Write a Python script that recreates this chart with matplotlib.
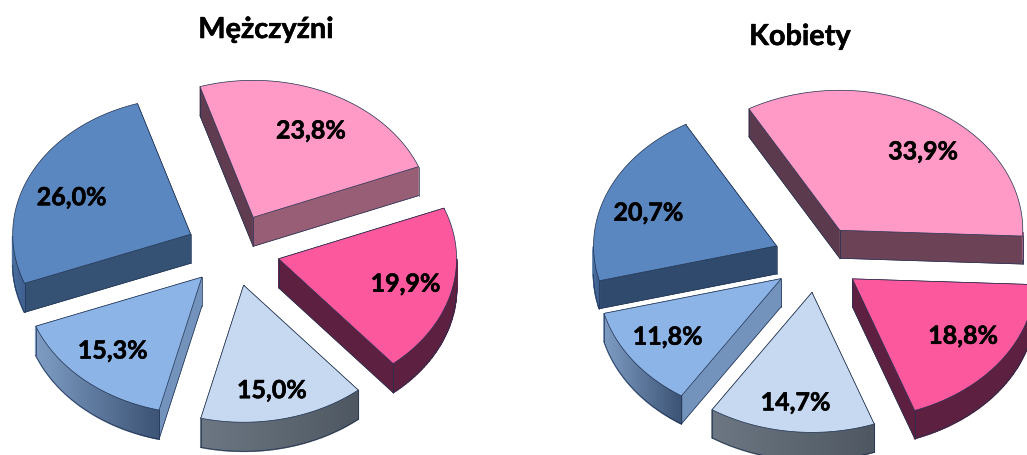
import numpy as np
import matplotlib
matplotlib.use("Agg")
import matplotlib.pyplot as plt
from matplotlib.patches import Polygon
import matplotlib.patheffects as pe

men_labels = ["23,8%", "19,9%", "15,0%", "15,3%", "26,0%"]
men_values = [23.8, 19.9, 15.0, 15.3, 26.0]
women_labels = ["33,9%", "18,8%", "14,7%", "11,8%", "20,7%"]
women_values = [33.9, 18.8, 14.7, 11.8, 20.7]

top_colors = ["#ff99c6", "#fc589e", "#c6d9f1", "#8db4e6", "#5b87c0"]
wall_left = ["#94607a", "#5e2040", "#6c7783", "#7f9dc4", "#4a70a0"]
wall_right = ["#94607a", "#5e2040", "#4e5761", "#3c5475", "#3f6090"]
# cut at the start of a slice / cut at its end
men_cuts0 = ["#5f3c4f", "#5e2040", "#4e5761", "#7393bc", "#355274"]
men_cuts1 = ["#975e76", "#5e2040", "#4e5761", "#7393bc", "#355274"]
women_cuts0 = ["#5c3a4e", "#5e2040", "#4e5761", "#7393bc", "#2f4a6c"]
women_cuts1 = ["#6c4256", "#5e2040", "#4e5761", "#7393bc", "#2f4a6c"]
edge = "#1f3050"

# label nudges, px
men_nudge = [(2, 4), (1, 1), (-1, 8), (-3, -1), (-2, 7)]
women_nudge = [(14, 9), (3, -3), (-1, 9), (-5, -1), (-5, 7)]

plt.rcParams["font.family"] = ["Lato", "DejaVu Sans"]

fig = plt.figure(figsize=(10.27, 4.56), dpi=100)
ax = fig.add_axes([0, 0, 1, 1])
ax.set_xlim(0, 1027)
ax.set_ylim(456, 0)
ax.axis("off")
bold = [pe.withStroke(linewidth=0.4, foreground="black")]


def pt(c, rx, ry, ang, r=1.0):
    # angle clockwise from top
    a = np.radians(ang)
    return np.array([c[0] + r * rx * np.sin(a), c[1] - r * ry * np.cos(a)])


def lerp_color(c1, c2, t):
    a = np.array(matplotlib.colors.to_rgb(c1))
    b = np.array(matplotlib.colors.to_rgb(c2))
    return a + (b - a) * t


def draw_pie(values, labels, c, rx, ry, start, expl, depth, cuts0, cuts1, nudge):
    ang = start
    wedges = []
    for i, v in enumerate(values):
        sweep = v / sum(values) * 360
        wedges.append((i, ang, ang + sweep))
        ang += sweep

    # back slices first
    wedges.sort(key=lambda w: -np.cos(np.radians((w[1] + w[2]) / 2)))
    for i, a0, a1 in wedges:
        mid = (a0 + a1) / 2
        apex = pt(c, rx, ry, mid, expl)
        angs = np.linspace(a0, a1, 80)
        arc = np.array([apex + pt((0, 0), rx, ry, a) for a in angs])
        down = np.array([0, depth])

        # straight cuts, far one first
        for p, col in sorted(((arc[0], cuts0[i]), (arc[-1], cuts1[i])), key=lambda q: q[0][1]):
            ax.add_patch(Polygon([apex, p, p + down, apex + down], closed=True,
                                 fc=col, ec=col, lw=0.5, zorder=2))
            ax.plot([apex[0], p[0]], [apex[1] + depth, p[1] + depth], color=edge, lw=0.5, zorder=2)

        # rim with gradient, front half only
        front = np.cos(np.radians(angs)) < 0
        rim = arc[front]
        if len(rim) > 1:
            xs = rim[:, 0]
            for k in np.argsort(np.maximum(rim[:-1, 1], rim[1:, 1])):
                t = (rim[k, 0] + rim[k + 1, 0]) / 2
                t = (t - xs.min()) / (xs.max() - xs.min())
                col = lerp_color(wall_left[i], wall_right[i], t)
                q = [rim[k], rim[k + 1], rim[k + 1] + down, rim[k] + down]
                ax.add_patch(Polygon(q, closed=True, fc=col, ec=col, lw=1.2, zorder=2))
            ax.plot(rim[:, 0], rim[:, 1] + depth, color=edge, lw=0.5, zorder=2)

        for p in (arc[0], arc[-1], apex):
            ax.plot([p[0], p[0]], [p[1], p[1] + depth], color=edge, lw=0.5, zorder=2)

        # top
        ax.add_patch(Polygon(np.vstack([apex, arc]), closed=True, fc=top_colors[i],
                             ec=edge, lw=0.5, zorder=3))

        lp = apex + pt((0, 0), rx, ry, mid, 0.73) + np.array(nudge[i])
        ax.text(lp[0], lp[1], labels[i], ha="center", va="center", fontsize=18,
                fontweight="bold", color="black", zorder=4, path_effects=bold)


draw_pie(men_values, men_labels, (233, 251), 178, 137, 342.6, 0.264, 29, men_cuts0, men_cuts1, men_nudge)
draw_pie(women_values, women_labels, (817, 260), 183, 140, 330.2, 0.24, 28, women_cuts0, women_cuts1, women_nudge)

ax.text(266, 31, "Mężczyźni", ha="center", va="center", fontsize=20.8, fontweight="bold", path_effects=bold)
ax.text(800, 38, "Kobiety", ha="center", va="center", fontsize=20.8, fontweight="bold", path_effects=bold)

fig.savefig("out.png", dpi=100)
